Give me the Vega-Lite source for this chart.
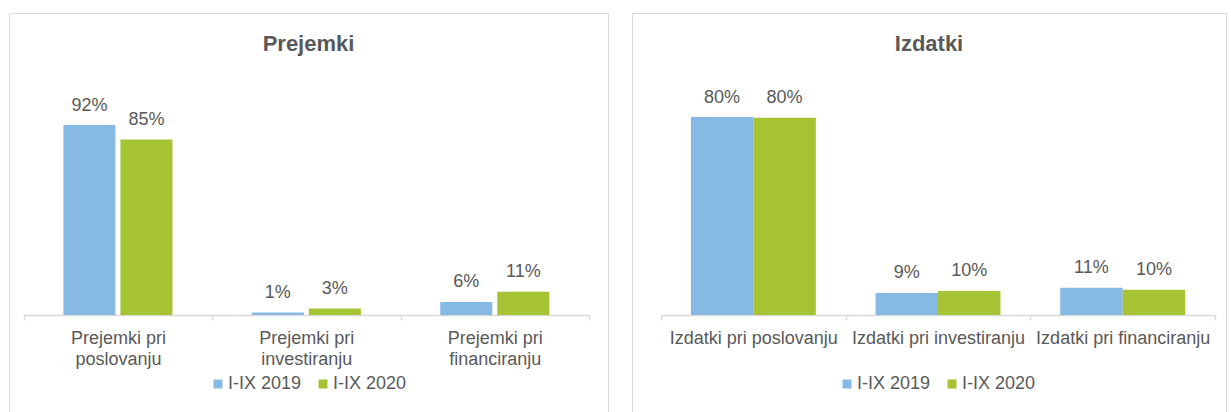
{
  "$schema": "https://vega.github.io/schema/vega-lite/v6.json",
  "padding": {"left": 8, "top": 12, "right": 0, "bottom": 0},
  "spacing": 22,
  "background": "white",
  "config": {
    "font": "Liberation Sans",
    "view": {"stroke": "#D9D9D9", "strokeWidth": 1},
    "title": {"fontSize": 22, "fontWeight": "bold", "color": "#595959", "anchor": "middle", "offset": -43, "font": "Liberation Sans"},
    "axisX": {
      "title": null, "orient": "bottom", "offset": -98,
      "domainColor": "#D9D9D9", "domainWidth": 1.5,
      "tickColor": "#D9D9D9", "tickWidth": 1.5, "tickSize": 5, "tickBand": "extent",
      "labelAngle": 0, "labelFontSize": 18, "labelColor": "#595959", "labelPadding": 9,
      "labelLineHeight": 21, "labelLimit": 400, "labelOverlap": false, "labelFlush": false
    },
    "legend": {
      "orient": "none", "direction": "horizontal", "title": null, "symbolType": "square",
      "symbolSize": 81, "symbolStrokeWidth": 0, "labelFontSize": 18, "labelColor": "#595959",
      "labelOffset": 1, "columnPadding": 12
    }
  },
  "resolve": {"scale": {"color": "independent", "x": "independent", "y": "independent", "xOffset": "independent"}, "legend": {"color": "independent"}},
  "hconcat": [
    {
      "width": 599,
      "height": 400,
      "title": {"text": "Prejemki"},
      "data": {"values": [
        {"category": "Prejemki pri poslovanju", "period": "I-IX 2019", "share": 0.92},
        {"category": "Prejemki pri poslovanju", "period": "I-IX 2020", "share": 0.85},
        {"category": "Prejemki pri investiranju", "period": "I-IX 2019", "share": 0.012},
        {"category": "Prejemki pri investiranju", "period": "I-IX 2020", "share": 0.032},
        {"category": "Prejemki pri financiranju", "period": "I-IX 2019", "share": 0.063},
        {"category": "Prejemki pri financiranju", "period": "I-IX 2020", "share": 0.113}
      ]},
      "encoding": {
        "x": {"field": "category", "type": "nominal", "sort": null,
              "scale": {"range": [14.7, 580], "paddingInner": 0, "paddingOuter": 0},
              "axis": {"labelExpr": "isValid(datum.value) ? ['Prejemki pri', replace(datum.value, 'Prejemki pri ', '')] : ''"}},
        "xOffset": {"field": "period", "type": "nominal", "scale": {"paddingInner": 0.0877, "paddingOuter": 0.696}},
        "y": {"field": "share", "type": "quantitative", "scale": {"domain": [0, 1], "range": [302, 95.5]}, "axis": null}
      },
      "layer": [
        {"mark": {"type": "bar"},
         "encoding": {"color": {"field": "period", "type": "nominal",
            "scale": {"domain": ["I-IX 2019", "I-IX 2020"], "range": ["#86BAE4", "#A6C334"]},
            "legend": {"legendX": 200, "legendY": 362}}}},
        {"mark": {"type": "text", "dy": -14.5, "baseline": "alphabetic", "fontSize": 18, "color": "#595959"},
         "encoding": {"text": {"field": "share", "type": "quantitative", "format": ".0%"}}}
      ]
    },
    {
      "width": 594,
      "height": 400,
      "title": {"text": "Izdatki"},
      "data": {"values": [
        {"category": "Izdatki pri poslovanju", "period": "I-IX 2019", "share": 0.80},
        {"category": "Izdatki pri poslovanju", "period": "I-IX 2020", "share": 0.797},
        {"category": "Izdatki pri investiranju", "period": "I-IX 2019", "share": 0.089},
        {"category": "Izdatki pri investiranju", "period": "I-IX 2020", "share": 0.097},
        {"category": "Izdatki pri financiranju", "period": "I-IX 2019", "share": 0.11},
        {"category": "Izdatki pri financiranju", "period": "I-IX 2020", "share": 0.102}
      ]},
      "encoding": {
        "x": {"field": "category", "type": "nominal", "sort": null,
              "scale": {"range": [29, 583], "paddingInner": 0, "paddingOuter": 0},
              "axis": {"labelExpr": "isValid(datum.value) ? datum.value : ''"}},
        "xOffset": {"field": "period", "type": "nominal", "scale": {"paddingInner": 0, "paddingOuter": 0.478}},
        "y": {"field": "share", "type": "quantitative", "scale": {"domain": [0, 1], "range": [302, 54.5]}, "axis": null}
      },
      "layer": [
        {"mark": {"type": "bar"},
         "encoding": {"color": {"field": "period", "type": "nominal",
            "scale": {"domain": ["I-IX 2019", "I-IX 2020"], "range": ["#86BAE4", "#A6C334"]},
            "legend": {"legendX": 206, "legendY": 362}}}},
        {"mark": {"type": "text", "dy": -14.5, "baseline": "alphabetic", "fontSize": 18, "color": "#595959"},
         "encoding": {"text": {"field": "share", "type": "quantitative", "format": ".0%"}}}
      ]
    }
  ]
}
